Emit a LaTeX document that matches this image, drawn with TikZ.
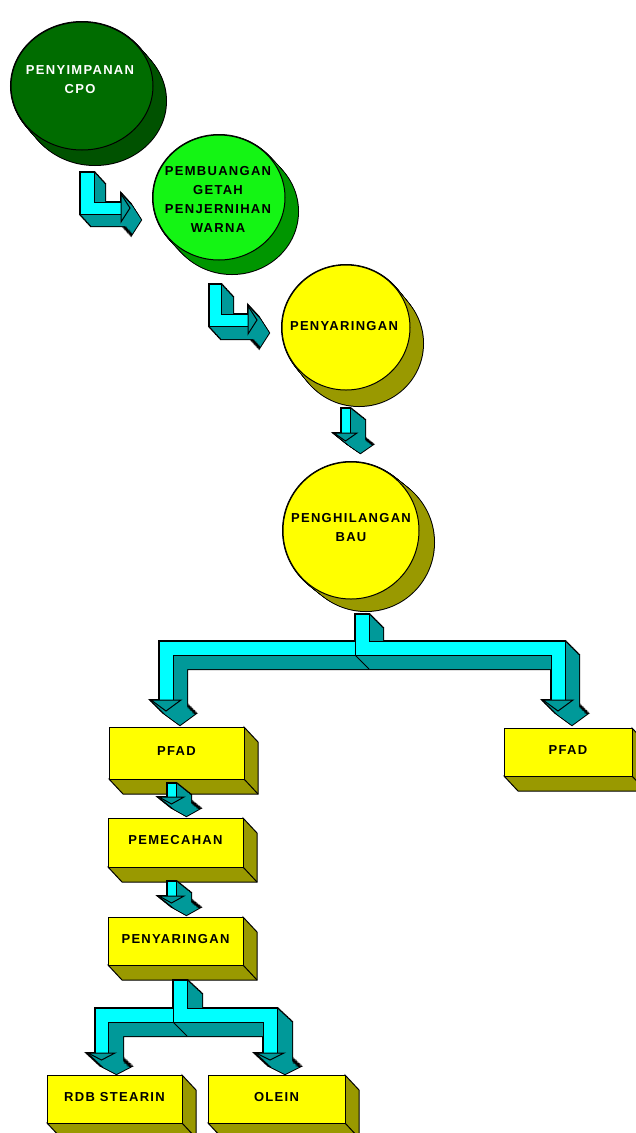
\documentclass[tikz,border=0pt]{standalone}
\usepackage{fontspec}
\setmainfont{Liberation Sans}[LetterSpace=10]
\definecolor{cyn}{RGB}{0,255,255}
\definecolor{tl}{RGB}{0,153,153}
\definecolor{yl}{RGB}{255,255,0}
\definecolor{ol}{RGB}{153,153,0}
\definecolor{dg}{RGB}{0,108,0}
\definecolor{dgs}{RGB}{0,82,0}
\definecolor{lg}{RGB}{20,245,20}
\definecolor{lgs}{RGB}{0,150,0}
% extruded solid: #1 dx, #2 dy, #3 side colour, #4 path(s)
\newcommand\extr[4]{%
  \foreach \i in {0,...,20}{\draw[line width=2pt,shift={({\i*#1/20},{\i*#2/20})}] #4;}
  \foreach \i in {0,...,20}{\fill[#3,shift={({\i*#1/20},{\i*#2/20})}] #4;}
}
% 3D box: #1 name, #2 x0, #3 y0, #4 x1, #5 y1, #6 text
\newcommand\bx[6]{%
  \filldraw[fill=ol,line width=1pt] (#4,#3) -- ({#4+14},{#3+15}) -- ({#4+14},{#5+15}) -- ({#2+14},{#5+15}) -- (#2,#5) -- (#4,#5) -- cycle;
  \draw[line width=1pt] (#4,#5) -- ({#4+14},{#5+15});
  \filldraw[fill=yl,line width=1pt] (#2,#3) rectangle (#4,#5);
  \node[lbl] (#1) at ({(#2+#4)/2},{(#3+#5)/2-2}) {#6};
}
\tikzset{lbl/.style={font=\bfseries\fontsize{13}{19}\selectfont,align=center,inner sep=0pt,text=black}}
\begin{document}
\begin{tikzpicture}[x=1pt,y=-1pt]
\fill[white] (0,0) rectangle (635,1133);
\useasboundingbox (0,0) rectangle (635,1133);

% ---- circles ----
\extr{13}{15}{dgs}{(82,86) ellipse [x radius=71,y radius=64]}
\filldraw[fill=dg,line width=1pt] (82,86) ellipse [x radius=71,y radius=64];
\node[lbl,text=white] (c1) at (80,80) {PENYIMPANAN\\CPO};

\extr{13}{14}{lgs}{(219,197.5) ellipse [x radius=66,y radius=62.5]}
\filldraw[fill=lg,line width=1pt] (219,197.5) ellipse [x radius=66,y radius=62.5];
\node[lbl] (c2) at (218,199) {PEMBUANGAN\\GETAH\\PENJERNIHAN\\WARNA};

\extr{13}{16}{ol}{(346,327.5) ellipse [x radius=64,y radius=62.5]}
\filldraw[fill=yl,line width=1pt] (346,327.5) ellipse [x radius=64,y radius=62.5];
\node[lbl] (c3) at (344,326) {PENYARINGAN};

\extr{15}{12}{ol}{(351,530.5) ellipse [x radius=68,y radius=68.5]}
\filldraw[fill=yl,line width=1pt] (351,530.5) ellipse [x radius=68,y radius=68.5];
\node[lbl] (c4) at (351,528) {PENGHILANGAN\\BAU};

% ---- boxes ----
\bx{b1}{109}{727}{244}{779}{PFAD}
\bx{b2}{504}{728}{632}{776}{PFAD}
\bx{b3}{108}{818}{243}{867}{PEMECAHAN}
\bx{b4}{108}{917}{243}{965}{PENYARINGAN}
\bx{b5}{47}{1075}{182}{1123}{RDB STEARIN}
\bx{b6}{208}{1075}{345}{1123}{OLEIN}

% ---- arrows ----
\tikzset{fr/.style={line width=1pt}}
% A1
\extr{11}{12}{tl}{(80,172)--(94,172)--(94,202)--(121,202)--(121,214)--(80,214)--cycle (121,194)--(130,208)--(121,222)--cycle}
\filldraw[fr,fill=cyn] (80,172)--(94,172)--(94,202)--(121,202)--(121,214)--(80,214)--cycle;
\filldraw[fr,fill=tl] (121,194)--(130,208)--(121,222)--cycle;
% A2
\extr{12}{13}{tl}{(209,284)--(221,284)--(221,314)--(248,314)--(248,326)--(209,326)--cycle (248,306)--(257,320)--(248,334)--cycle}
\filldraw[fr,fill=cyn] (209,284)--(221,284)--(221,314)--(248,314)--(248,326)--(209,326)--cycle;
\filldraw[fr,fill=tl] (248,306)--(257,320)--(248,334)--cycle;
% A3
\extr{15}{12}{tl}{(341,408)--(350,408)--(350,433)--(341,433)--cycle (334,433)--(357,433)--(345.5,441)--cycle}
\filldraw[fr,fill=cyn] (341,408)--(350,408)--(350,433)--(341,433)--cycle;
\filldraw[fr,fill=tl] (334,433)--(357,433)--(345.5,441)--cycle;
% B1
\extr{14}{14}{tl}{(355,614)--(369,614)--(369,641)--(565,641)--(565,700)--(551,700)--(551,655)--(173,655)--(173,700)--(159,700)--(159,641)--(355,641)--cycle (151,700)--(181,700)--(166,711)--cycle (543,700)--(573,700)--(558,711)--cycle}
\draw[fr] (355,655)--(369,669);
\filldraw[fr,fill=cyn] (355,614)--(369,614)--(369,641)--(565,641)--(565,700)--(551,700)--(551,655)--(173,655)--(173,700)--(159,700)--(159,641)--(355,641)--cycle;
\draw[fr] (355,641)--(355,655);
\filldraw[fr,fill=tl] (151,700)--(181,700)--(166,711)--cycle;
\filldraw[fr,fill=tl] (543,700)--(573,700)--(558,711)--cycle;
% A4
\extr{15}{12}{tl}{(167,783)--(176,783)--(176,797)--(167,797)--cycle (159,797)--(184,797)--(171.5,804)--cycle}
\filldraw[fr,fill=cyn] (167,783)--(176,783)--(176,797)--(167,797)--cycle;
\filldraw[fr,fill=tl] (159,797)--(184,797)--(171.5,804)--cycle;
% A5
\extr{15}{12}{tl}{(167,881)--(176,881)--(176,896)--(167,896)--cycle (159,896)--(184,896)--(171.5,903)--cycle}
\filldraw[fr,fill=cyn] (167,881)--(176,881)--(176,896)--(167,896)--cycle;
\filldraw[fr,fill=tl] (159,896)--(184,896)--(171.5,903)--cycle;
% B2
\extr{15}{14}{tl}{(173,980)--(187,980)--(187,1008)--(277,1008)--(277,1053)--(263,1053)--(263,1022)--(108,1022)--(108,1053)--(95,1053)--(95,1008)--(173,1008)--cycle (88,1053)--(115,1053)--(101.5,1060)--cycle (256,1053)--(284,1053)--(270,1060)--cycle}
\draw[fr] (173,1022)--(187,1036);
\filldraw[fr,fill=cyn] (173,980)--(187,980)--(187,1008)--(277,1008)--(277,1053)--(263,1053)--(263,1022)--(108,1022)--(108,1053)--(95,1053)--(95,1008)--(173,1008)--cycle;
\draw[fr] (173,1008)--(173,1022);
\filldraw[fr,fill=tl] (88,1053)--(115,1053)--(101.5,1060)--cycle;
\filldraw[fr,fill=tl] (256,1053)--(284,1053)--(270,1060)--cycle;
\end{tikzpicture}
\end{document}
